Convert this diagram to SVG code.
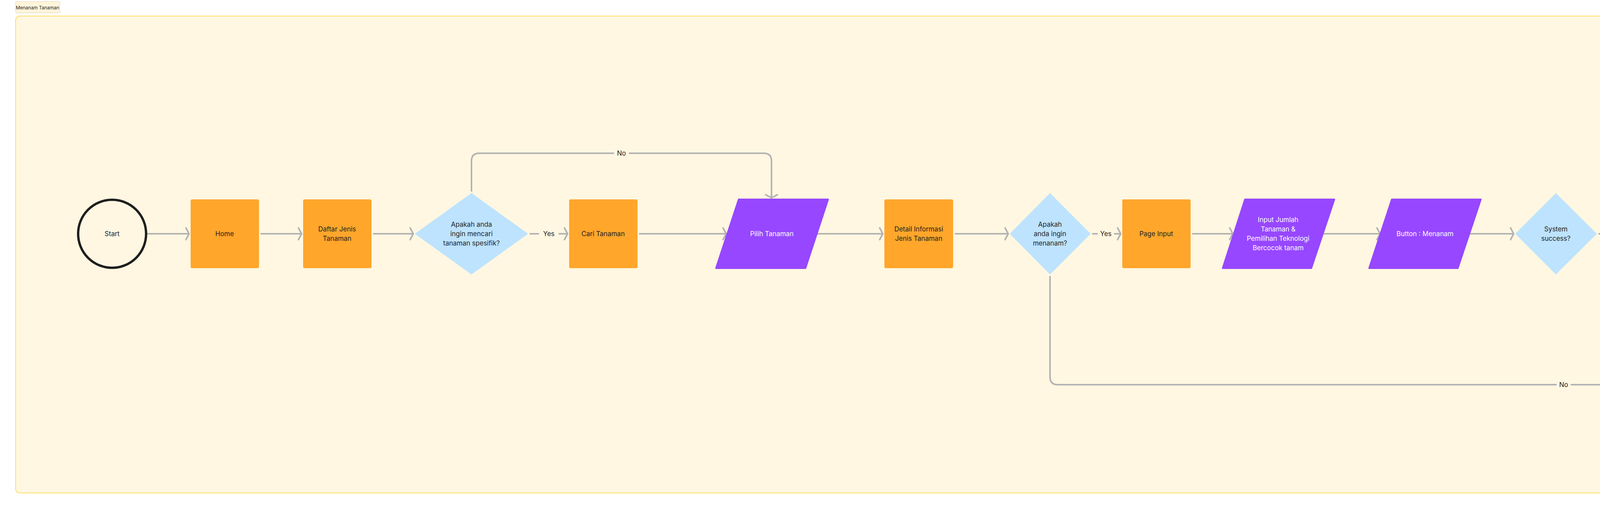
<svg xmlns="http://www.w3.org/2000/svg" width="5536" height="1302" viewBox="0 0 5536 1302">
<style>
.t{font-family:Inter,"Liberation Sans",sans-serif;font-size:17px;fill:#1e1e1e;text-anchor:middle;dominant-baseline:central}
.w{fill:#ffffff}
.o{fill:#FFA62B}
.p{fill:#9747FF}
.d{fill:#BDE3FF}
.c{fill:none;stroke:#1e1e1e;stroke-width:6}
.e{fill:none;stroke:#b3b3b3;stroke-width:4}
.lbl{font-family:Inter,"Liberation Sans",sans-serif;font-size:17px;fill:#1e1e1e;text-anchor:middle;dominant-baseline:central}
</style>
<defs>
<marker id="a" markerUnits="userSpaceOnUse" markerWidth="30" markerHeight="40" viewBox="-20 -20 30 40" refX="0" refY="0" orient="auto">
<path d="M-8,-15 L0,0 L-8,15" fill="none" stroke="#b3b3b3" stroke-width="4" stroke-linecap="round"/>
</marker>
</defs>
<rect width="5536" height="1302" fill="#ffffff"/>
<g id="title"><rect x="40" y="4" width="113" height="29" rx="2" fill="#FFF5DC" stroke="#dcd2ad" stroke-width="1"/><text class="t" x="96" y="19" style="font-size:12px">Menanam Tanaman</text></g>
<g id="container"><rect x="40" y="41" width="5456" height="1220" rx="10" fill="#FFF7E1" stroke="#FFD43B" stroke-width="1.5"/></g>
<g id="connectors">
<path class="e" d="M377,598 H484" marker-end="url(#a)"/>
<path class="e" d="M667,598 H772" marker-end="url(#a)"/>
<path class="e" d="M955,598 H1058" marker-end="url(#a)"/>
<path class="e" d="M1356,598 H1380 M1430,598 H1453" marker-end="url(#a)"/>
<text class="lbl" x="1405" y="598">Yes</text>
<path class="e" d="M1207,490 V412 Q1207,392 1227,392 H1572 M1610,392 H1955 Q1975,392 1975,412 V506" marker-end="url(#a)"/>
<text class="lbl" x="1591" y="392">No</text>
<path class="e" d="M1636,598 H1859" marker-end="url(#a)"/>
<path class="e" d="M2091,598 H2260" marker-end="url(#a)"/>
<path class="e" d="M2444,598 H2581" marker-end="url(#a)"/>
<path class="e" d="M2796,598 H2810 M2852,598 H2869" marker-end="url(#a)"/>
<text class="lbl" x="2831" y="598">Yes</text>
<path class="e" d="M3052,598 H3156" marker-end="url(#a)"/>
<path class="e" d="M3387,598 H3533" marker-end="url(#a)"/>
<path class="e" d="M3762,598 H3875" marker-end="url(#a)"/>
<path class="e" d="M4092,598 H4172 Q4192,598 4192,578 V532 M4192,488 V442 Q4192,422 4212,422 H4332" marker-end="url(#a)"/>
<text class="lbl" x="4192" y="510">Yes</text>
<path class="e" d="M4192,598 Q4192,598 4192,618 V630 M4192,666 V677 Q4192,697 4212,697 H4332" marker-end="url(#a)"/>
<text class="lbl" x="4192" y="648">No</text>
<path class="e" d="M4653,421 H4753 Q4773,421 4773,441 V578 Q4773,598 4793,598 H4852" marker-end="url(#a)"/>
<path class="e" d="M4630,697 H4753 Q4773,697 4773,677 V618 Q4773,598 4793,598"/>
<path class="e" d="M5036,598 H5228" marker-end="url(#a)"/>
<path class="e" d="M2688,706 V964 Q2688,984 2708,984 H3985 M4021,984 H5300 Q5320,984 5320,964 V690" marker-end="url(#a)"/>
<text class="lbl" x="4003" y="984">No</text>
</g>
<g id="start"><circle class="c" cx="287" cy="598" r="87"/><text class="t" x="287" y="598">Start</text></g>
<g id="home"><rect class="o" x="488" y="510" width="175" height="176" rx="4"/><text class="t" x="575" y="598">Home</text></g>
<g id="daftar"><rect class="o" x="776" y="510" width="175" height="176" rx="4"/><text class="t" x="863" y="586">Daftar Jenis</text><text class="t" x="863" y="610">Tanaman</text></g>
<g id="q1"><path class="d" d="M1207,494 L1352,598 L1207,702 L1062,598 Z"/><text class="t" x="1207" y="574">Apakah anda</text><text class="t" x="1207" y="598">ingin mencari</text><text class="t" x="1207" y="622">tanaman spesifik?</text></g>
<g id="cari"><rect class="o" x="1457" y="510" width="175" height="176" rx="4"/><text class="t" x="1544" y="598">Cari Tanaman</text></g>
<g id="pilih"><path class="p" d="M1891,510 H2120 L2062,686 H1833 Z" stroke="#9747FF" stroke-width="4" stroke-linejoin="round"/><text class="t w" x="1976" y="598">Pilih Tanaman</text></g>
<g id="detail"><rect class="o" x="2264" y="510" width="176" height="176" rx="4"/><text class="t" x="2352" y="586">Detail Informasi</text><text class="t" x="2352" y="610">Jenis Tanaman</text></g>
<g id="q2"><path class="d" d="M2688,494 L2792,598 L2688,702 L2585,598 Z"/><text class="t" x="2688" y="574">Apakah</text><text class="t" x="2688" y="598">anda ingin</text><text class="t" x="2688" y="622">menanam?</text></g>
<g id="pageinput"><rect class="o" x="2873" y="510" width="175" height="176" rx="4"/><text class="t" x="2960" y="598">Page Input</text></g>
<g id="inputjumlah"><path class="p" d="M3187,510 H3416 L3357,686 H3130 Z" stroke="#9747FF" stroke-width="4" stroke-linejoin="round"/><text class="t w" x="3272" y="562">Input Jumlah</text><text class="t w" x="3272" y="586">Tanaman &amp;</text><text class="t w" x="3272" y="610">Pemilihan Teknologi</text><text class="t w" x="3272" y="634">Bercocok tanam</text></g>
<g id="button"><path class="p" d="M3563,510 H3791 L3732,686 H3505 Z" stroke="#9747FF" stroke-width="4" stroke-linejoin="round"/><text class="t w" x="3648" y="598">Button : Menanam</text></g>
<g id="q3"><path class="d" d="M3983,494 L4088,598 L3983,702 L3879,598 Z"/><text class="t" x="3983" y="586">System</text><text class="t" x="3983" y="610">success?</text></g>
<g id="congrat"><path d="M4379,335 H4689 L4608,508 H4299 Z" fill="none" stroke="#9747FF" stroke-width="6" stroke-linejoin="round"/><text class="t" x="4493" y="410">modal congratulation</text><text class="t" x="4493" y="434">success</text></g>
<g id="fail"><path d="M4379,611 H4689 L4608,784 H4299 Z" fill="none" stroke="#9747FF" stroke-width="6" stroke-linejoin="round"/><text class="t" x="4493" y="698">Modal bahwa fail</text></g>
<g id="history"><rect class="o" x="4857" y="510" width="175" height="176" rx="4"/><text class="t" x="4944" y="598">history Menanam</text></g>
<g id="end"><circle class="c" cx="5320" cy="598" r="87"/><text class="t" x="5320" y="598">End</text></g>
</svg>
